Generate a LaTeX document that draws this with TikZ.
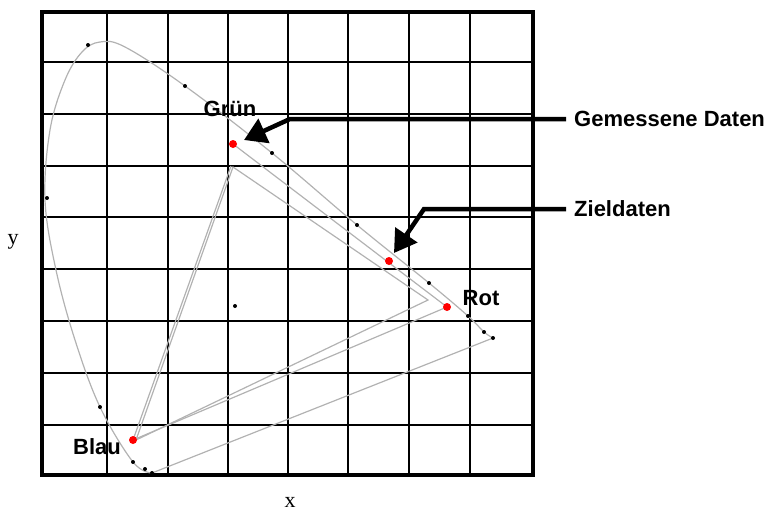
\documentclass[tikz,border=0pt]{standalone}
\usepackage{fontspec}
\setmainfont{Liberation Serif}
\newfontfamily\labelfont{Liberation Sans}
\usetikzlibrary{calc,arrows.meta,positioning}
\tikzset{lbl/.style={font=\labelfont\bfseries\fontsize{22}{26}\selectfont},
  pfeil/.style={line width=4.5pt,-{Triangle[length=22pt,width=26pt]}},
  dreieck/.style={gray!60,line width=1.2pt}}
\begin{document}
\begin{tikzpicture}[x=1pt,y=-1pt]
	\useasboundingbox (0,0) rectangle (773,512);
	% grid
	\foreach \x in {107,168,228,288,348,409,470}
	\draw[line width=1.8pt] (\x,12)--(\x,475);
	\foreach \y in {62,114,166,217,269,321,373,425}
	\draw[line width=1.8pt] (42,\y)--(533,\y);
	\draw[line width=3.5pt] (42,12) rectangle (533,475);
	% spectral locus
	\draw[dreieck] plot[smooth,tension=0.6] coordinates {(152,473) (133,462) (100,407) (75,340) (56,270) (45,200) (50,130) (65,80) (82,52) (100,42) (125,47) (185,86) (272,153) (357,225) (429,283) (468,316) (484,332) (493,338)} -- cycle;
	\foreach \x/\y in {152/473,145/469,133/462,100/407,47/198,88/45,185/86,272/153,357/225,429/283,468/316,484/332,493/338,235/306}
	\fill (\x,\y) circle (2);
	% triangles
	\coordinate (gruen) at (233,144);
	\coordinate (rot) at (447,307);
	\coordinate (blau) at (133,440);
	\coordinate (ziel) at (389,261);
	\draw[dreieck] (gruen)--(rot)--(blau)--(231,166);
	\draw[dreieck] (233,167)--(428,300)--(136,440)--cycle;
	\foreach \p in {gruen,rot,blau,ziel}
	\fill[red] (\p) circle (4);
	% labels
	\node[lbl] (lgruen) at (230,109) {Grün};
	\node[lbl] (lrot) at (481,298) {Rot};
	\node[lbl] (lblau) at (97,447) {Blau};
	\node[lbl,anchor=west,inner sep=8pt] (gem) at (566,119) {Gemessene Daten};
	\node[lbl,anchor=west,inner sep=8pt] (zd) at (566,209) {Zieldaten};
	\draw[pfeil] (gem.west) -- (290,119) -- ($(gruen)+(11,-4)$);
	\draw[pfeil] (zd.west) -- (424,209) -- ($(ziel)+(5,-8)$);
	\node[font=\fontsize{22}{26}\selectfont] (ax) at (290,502) {x};
	\node[font=\fontsize{22}{26}\selectfont] (ay) at (13,242) {y};
\end{tikzpicture}
\end{document}
